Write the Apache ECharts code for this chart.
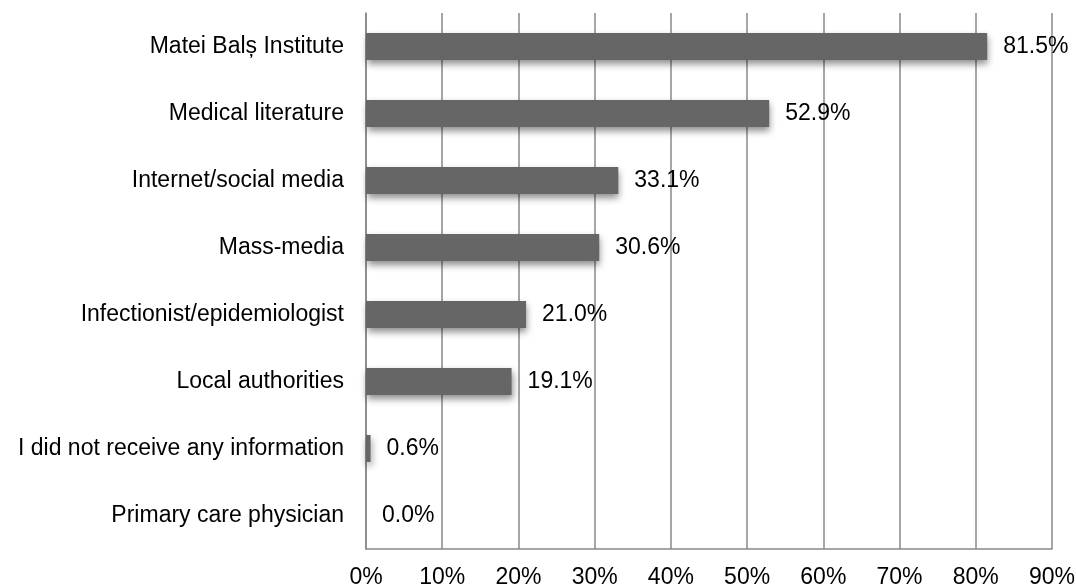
<!DOCTYPE html>
<html><head><meta charset="utf-8">
<script src="https://cdn.jsdelivr.net/npm/echarts@6/dist/echarts.min.js"></script>
<style>html,body{margin:0;padding:0;background:#fff}#c{width:1076px;height:587px}</style>
</head><body><div id="c"></div>
<script>
const categories = ["Matei Balș Institute","Medical literature","Internet/social media","Mass-media","Infectionist/epidemiologist","Local authorities","I did not receive any information","Primary care physician"];
const values = [81.5, 52.9, 33.1, 30.6, 21.0, 19.1, 0.6, 0.0];
const xTicks = [0,10,20,30,40,50,60,70,80,90];

const chart = echarts.init(document.getElementById('c'), null, {renderer:'canvas'});
const font = '"Liberation Sans", Arial, sans-serif';
chart.setOption({
  animation:false,
  grid:{left:366,right:24,top:13,bottom:38,containLabel:false,outerBoundsMode:'none'},
  xAxis:{type:'value',min:0,max:90,interval:10,
    axisLine:{show:true,lineStyle:{color:'#888',width:1.5}},
    axisTick:{show:false},
    splitLine:{show:true,lineStyle:{color:'#888',width:1.5}},
    axisLabel:{formatter:v=>v+'%',color:'#000',fontSize:23,fontFamily:font,margin:17}
  },
  yAxis:{type:'category',data:categories,inverse:true,
    axisLine:{show:true,lineStyle:{color:'#888',width:1.5}},
    axisTick:{show:false},
    axisLabel:{color:'#000',fontSize:23,fontFamily:font,margin:22}
  },
  series:[{type:'bar',data:values,barWidth:27,
    itemStyle:{color:'#666666',shadowColor:'rgba(0,0,0,0.45)',shadowBlur:7,shadowOffsetY:4,shadowOffsetX:1},
    label:{show:true,position:'right',distance:16,formatter:p=>p.value.toFixed(1)+'%',color:'#000',fontSize:23,fontFamily:font}
  }]
});
</script></body></html>
